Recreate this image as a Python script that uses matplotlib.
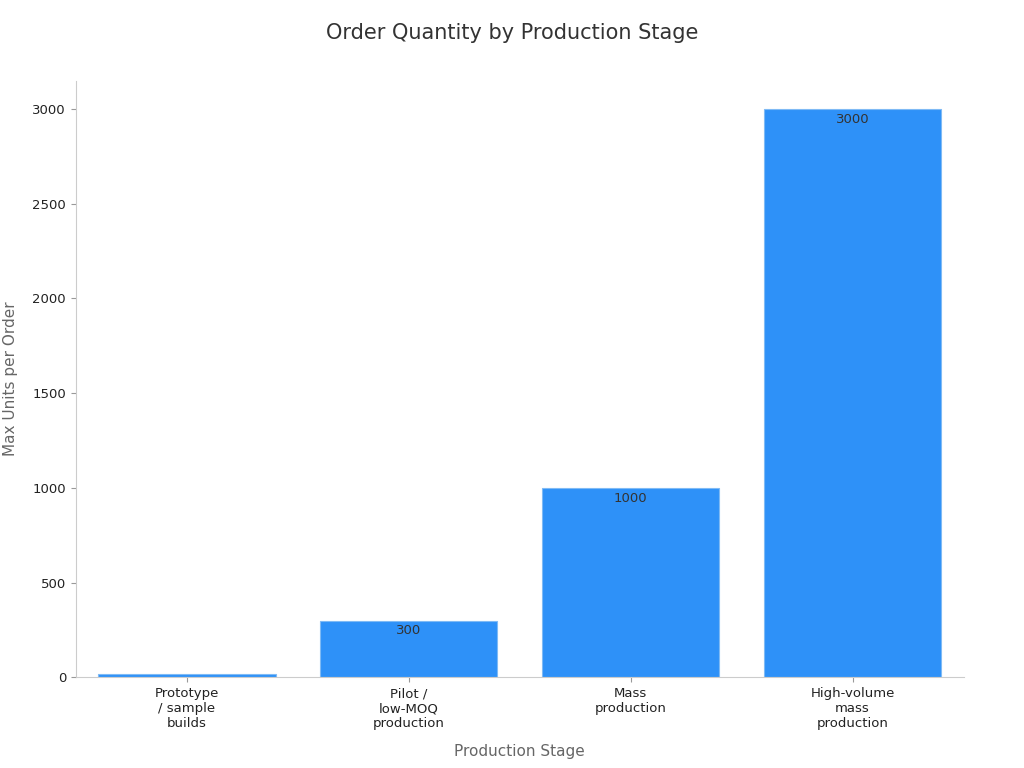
import matplotlib
matplotlib.use("Agg")
import matplotlib.pyplot as plt

stages = ["Prototype\n/ sample\nbuilds", "Pilot /\nlow-MOQ\nproduction", "Mass\nproduction",
          "High-volume\nmass\nproduction"]
max_units = [20, 300, 1000, 3000]

plt.rcParams.update({"font.family": "DejaVu Sans"})
fig = plt.figure(figsize=(10.24, 7.68), dpi=100)
ax = fig.add_axes([0.074, 0.118, 0.867, 0.777])
x = range(len(stages))
bars = ax.bar(x, max_units, width=0.8, color="#2e91f8", edgecolor="#7fbaf5", linewidth=0.8)
for b, v in zip(bars, max_units):
    if v >= 100:
        ax.text(b.get_x() + b.get_width() / 2, v - 20, f"{v}", ha="center", va="top",
                fontsize=9.5, color="#333333")
ax.set_xticks(list(x))
ax.set_xticklabels(stages, fontsize=9.5, color="#222222")
ax.set_xlim(-0.5, 3.5)
ax.set_ylim(0, 3150)
ax.set_yticks([0, 500, 1000, 1500, 2000, 2500, 3000])
ax.tick_params(axis="y", labelsize=9.5, colors="#222222")
ax.tick_params(color="#999999")
for s in ["top", "right"]:
    ax.spines[s].set_visible(False)
for s in ["left", "bottom"]:
    ax.spines[s].set_color("#cccccc")
ax.set_xlabel("Production Stage", fontsize=11, color="#666666", labelpad=10)
ax.set_ylabel("Max Units per Order", fontsize=11, color="#666666", labelpad=10)
fig.suptitle("Order Quantity by Production Stage", fontsize=15, color="#333333", y=0.97)
fig.savefig("out.png")
